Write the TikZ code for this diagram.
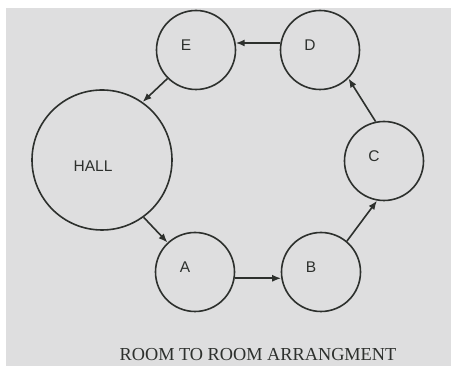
\documentclass[tikz,border=0pt]{standalone}
\usepackage{fontspec}
\setmainfont{Liberation Serif}
\setsansfont{Liberation Sans}
\usetikzlibrary{arrows.meta}
\definecolor{paper}{RGB}{222,222,223}
\definecolor{ink}{RGB}{45,48,45}

\begin{document}
\begin{tikzpicture}[x=1pt, y=1pt,
            roomtext/.style={text=ink, font=\sffamily\fontsize{15.5}{15.5}\selectfont},
            room/.style={circle, draw=ink, line width=1.6pt, inner sep=0pt, minimum size=79pt,
              label={[roomtext, xshift=-10pt, yshift=5pt]center:#1}},
            arr/.style={draw=ink, line width=1.6pt, -{Latex[length=9pt, width=7pt]}}]
            \useasboundingbox (0,0) rectangle (451,366);
            \fill [white] (0,0) rectangle (451,366);
            \fill [paper] (6,0) rectangle (451,358);

            \node [circle, draw=ink, line width=1.6pt, inner sep=0pt, minimum size=140pt,
              label={[roomtext, xshift=-9pt, yshift=-6pt]center:HALL}] (hall) at (102,206) {};
            \node [room=E] (e) at (196,316) {};
            \node [room=D] (d) at (320,316) {};
            \node [room=C] (c) at (384,205) {};
            \node [room=A] (a) at (195,94) {};
            \node [room=B] (b) at (321,94) {};

            \path [arr] (hall.-54) -- (a.133);
            \path [arr] (a.-9) -- (b.189);
            \path [arr] (b.50) -- (c.260);
            \path [arr] (c.102) -- (d.-45);
            \path [arr] (d.170) -- (e.10);
            \path [arr] (e.225) -- (hall.55);

            \node [text=ink, font=\fontsize{18.3}{18.3}\selectfont] (title) at (258,11) {ROOM TO ROOM ARRANGMENT};
        \end{tikzpicture}
\end{document}
